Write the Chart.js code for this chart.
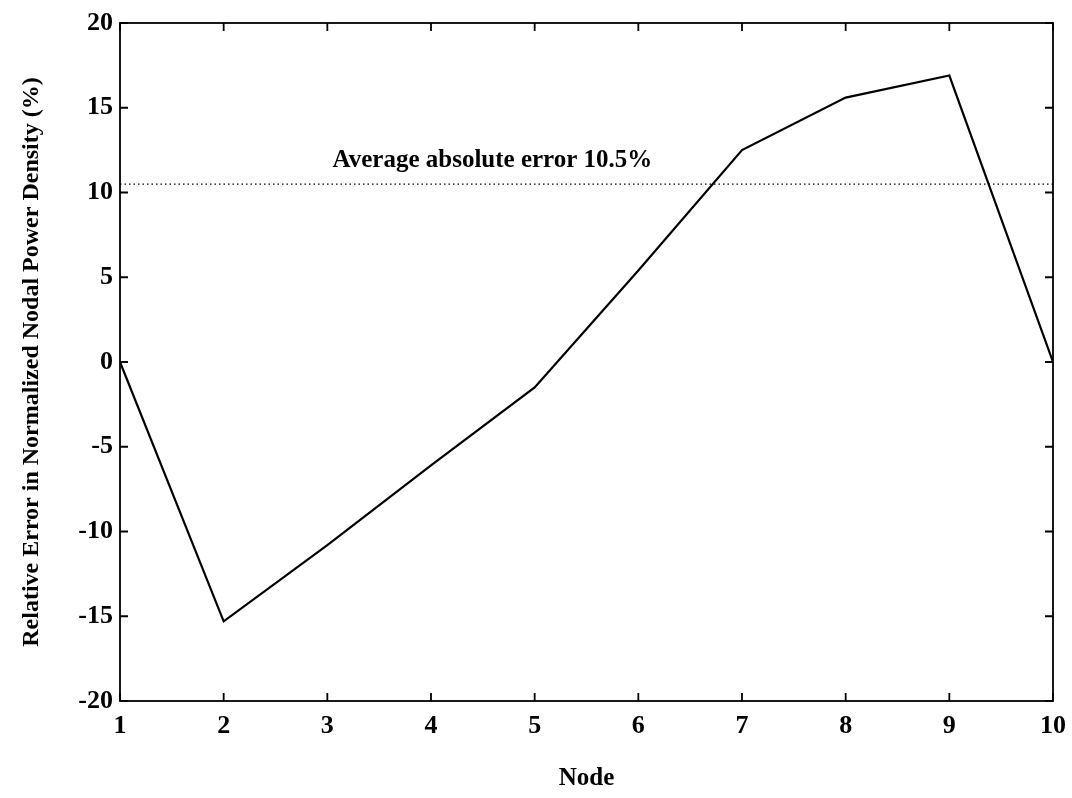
<!DOCTYPE html>
<html>
<head>
<meta charset="utf-8">
<script src="https://cdn.jsdelivr.net/npm/chart.js@4.4.1/dist/chart.umd.min.js"></script>
<style>
  html, body { margin: 0; padding: 0; background: #fff; }
  #wrap { width: 1072px; height: 798px; }
</style>
</head>
<body>
<div id="wrap"><canvas id="myChart" width="1072" height="798"></canvas></div>
<script>
// node numbers and relative error (%)
var nodes = [1, 2, 3, 4, 5, 6, 7, 8, 9, 10];
var errors = [0, -15.3, -10.8, -6.1, -1.5, 5.4, 12.5, 15.6, 16.9, 0];
var avgError = 10.5;
var avgLabel = 'Average absolute error 10.5%';
var xTicks = [1, 2, 3, 4, 5, 6, 7, 8, 9, 10];
var yTicks = [-20, -15, -10, -5, 0, 5, 10, 15, 20];

var serif = '"Liberation Serif", "Times New Roman", serif';

var linePoints = [];
for (var i = 0; i < nodes.length; i++) {
  linePoints.push({ x: nodes[i], y: errors[i] });
}
var avgPoints = [{ x: nodes[0], y: avgError }, { x: nodes[nodes.length - 1], y: avgError }];

// box around plot with inward ticks on all four sides, plus the label
var framePlugin = {
  id: 'frame',
  afterDraw: function(chart) {
    var ctx = chart.ctx;
    var a = chart.chartArea;
    var xs = chart.scales.x;
    var ys = chart.scales.y;
    var t = 8;
    ctx.save();
    ctx.strokeStyle = '#000';
    ctx.lineWidth = 1.8;
    ctx.strokeRect(a.left, a.top, a.right - a.left, a.bottom - a.top);
    ctx.beginPath();
    for (var i = 0; i < xTicks.length; i++) {
      var px = xs.getPixelForValue(xTicks[i]);
      ctx.moveTo(px, a.bottom); ctx.lineTo(px, a.bottom - t);
      ctx.moveTo(px, a.top); ctx.lineTo(px, a.top + t);
    }
    for (var j = 0; j < yTicks.length; j++) {
      var py = ys.getPixelForValue(yTicks[j]);
      ctx.moveTo(a.left, py); ctx.lineTo(a.left + t, py);
      ctx.moveTo(a.right, py); ctx.lineTo(a.right - t, py);
    }
    ctx.stroke();
    ctx.fillStyle = '#000';
    ctx.font = 'bold 25px ' + serif;
    ctx.textAlign = 'left';
    ctx.textBaseline = 'alphabetic';
    ctx.fillText(avgLabel, xs.getPixelForValue(3.05), ys.getPixelForValue(11.5));
    ctx.restore();
  }
};

var ctx = document.getElementById('myChart');
var myLineChart = new Chart(ctx, {
  type: 'line',
  data: {
    datasets: [{
      label: 'Error',
      data: linePoints,
      borderColor: '#000',
      borderWidth: 2.2,
      pointRadius: 0,
      tension: 0,
      fill: false
    }, {
      label: 'Average',
      data: avgPoints,
      borderColor: '#000',
      borderWidth: 1.3,
      borderDash: [1.5, 3],
      pointRadius: 0,
      fill: false
    }]
  },
  plugins: [framePlugin],
  options: {
    responsive: false,
    animation: false,
    layout: { padding: { left: 0, right: 19, top: 23, bottom: 0 } },
    plugins: {
      legend: { display: false },
      tooltip: { enabled: false }
    },
    scales: {
      x: {
        type: 'linear',
        min: 1,
        max: 10,
        afterFit: function(scale) {
          scale.height = 97;
          scale.paddingRight = 0;
          scale.paddingLeft = 0;
        },
        afterBuildTicks: function(scale) {
          scale.ticks = xTicks.map(function(v) { return { value: v }; });
        },
        grid: { display: false, drawTicks: false },
        border: { display: false },
        ticks: { color: '#000', padding: 10, maxRotation: 0, font: { family: serif, size: 26, weight: 'bold' } },
        title: {
          display: true,
          text: 'Node',
          color: '#000',
          padding: { top: 0, bottom: 4 },
          font: { family: serif, size: 25, weight: 'bold' }
        }
      },
      y: {
        min: -20,
        max: 20,
        afterFit: function(scale) { scale.width = 120; },
        afterBuildTicks: function(scale) {
          scale.ticks = yTicks.map(function(v) { return { value: v }; });
        },
        grid: { display: false, drawTicks: false },
        border: { display: false },
        ticks: { color: '#000', padding: 7, font: { family: serif, size: 26, weight: 'bold' } },
        title: {
          display: true,
          text: 'Relative Error in Normalized Nodal Power Density (%)',
          color: '#000',
          padding: { top: 17, bottom: 0 },
          font: { family: serif, size: 24, weight: 'bold' }
        }
      }
    }
  }
});
</script>
</body>
</html>
